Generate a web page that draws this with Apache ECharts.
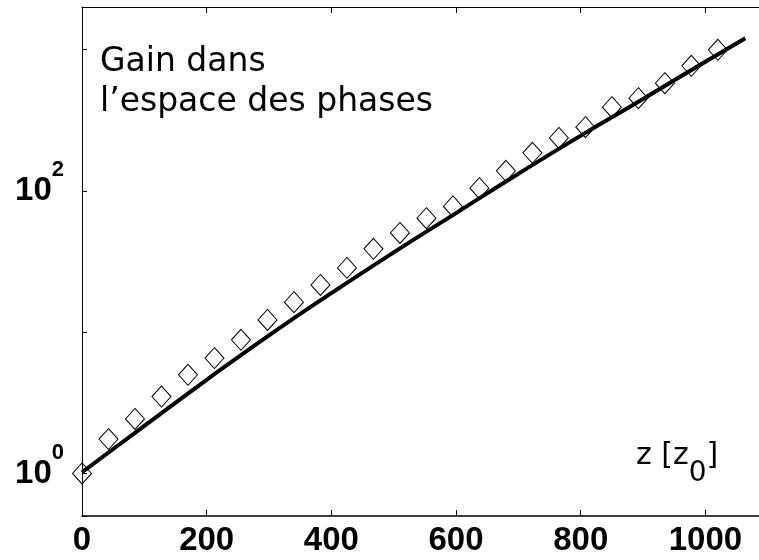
<!DOCTYPE html>
<html>
<head>
<meta charset="utf-8">
<script src="https://cdn.jsdelivr.net/npm/echarts@6/dist/echarts.min.js"></script>
<style>html,body{margin:0;padding:0;background:#fff}</style>
</head>
<body>
<div id="main" style="width:759px;height:560px"></div>
<script>
// courbe continue (théorie)
var lineZ = [0, 100, 200, 300, 400, 500, 600, 700, 800, 900, 1000, 1064]
var lineGain = [1.02, 2.17, 4.6, 9.5, 18.9, 36.7, 69.6, 132, 246, 447, 820, 1200]
// losanges (simulation)
var pointZ = [0, 42.5, 85, 127.5, 170, 212.5, 255, 297.5, 340, 382.5, 425, 467.5, 510,
  552.5, 595, 637.5, 680, 722.5, 765, 807.5, 850, 892.5, 935, 977.5, 1020]
var pointGain = [1.0, 1.75, 2.43, 3.5, 4.99, 6.55, 8.82, 12.2, 16.3, 21.6, 28.5, 38.9, 50.4,
  64.1, 77.6, 104.5, 138.5, 186, 237, 282, 391, 453, 578, 767, 995]
// graduations
var yLabelValues = [1, 100]
var xTickStep = 200

var labelFont = 'Liberation Sans'
var textFont = 'DejaVu Sans'

function pairs(xs, ys) {
  return xs.map(function (x, i) { return [x, ys[i]] })
}

var chart = echarts.init(document.getElementById('main'))
var option = {
  animation: false,
  backgroundColor: '#fff',
  title: {
    text: 'Gain dans\nl\u2019espace des phases',
    left: 100,
    top: 42,
    padding: 0,
    textStyle: {
      fontFamily: textFont,
      fontSize: 33,
      fontWeight: 'normal',
      lineHeight: 40,
      color: '#000',
    },
  },
  grid: { left: 82, right: 0, top: 7, bottom: 44 },
  xAxis: [
    {
      type: 'value',
      min: 0,
      max: 1086,
      interval: xTickStep,
      axisLine: { lineStyle: { color: '#000', width: 1.5 } },
      axisTick: { inside: true, length: 6, lineStyle: { color: '#000' } },
      splitLine: { show: false },
      axisLabel: {
        showMaxLabel: false,
        margin: 8,
        color: '#000',
        fontFamily: labelFont,
        fontSize: 33,
        fontWeight: 'bold',
        formatter: function (v) { return String(v) },
      },
    },
    {
      type: 'value',
      position: 'top',
      min: 0,
      max: 1086,
      interval: xTickStep,
      axisLine: { lineStyle: { color: '#000', width: 1.2 } },
      axisTick: { inside: true, length: 6, lineStyle: { color: '#000' } },
      splitLine: { show: false },
      axisLabel: { show: false },
    },
  ],
  yAxis: {
    type: 'log',
    logBase: 10,
    min: 0.5,
    max: 2000,
    axisLine: { show: true, lineStyle: { color: '#000', width: 1 } },
    axisTick: { inside: true, length: 5, lineStyle: { color: '#000' } },
    splitLine: { show: false },
    axisLabel: {
      margin: 18,
      formatter: function (v) {
        for (var i = 0; i < yLabelValues.length; i++) {
          var L = yLabelValues[i]
          if (Math.abs(v - L) / L < 1e-6) {
            return '{b|10}{s|' + Math.round(Math.log10(L)) + '}'
          }
        }
        return ''
      },
      rich: {
        b: { fontFamily: labelFont, fontSize: 33, fontWeight: 'bold', color: '#000', lineHeight: 64 },
        s: { fontFamily: labelFont, fontSize: 22, fontWeight: 'bold', color: '#000', lineHeight: 33, verticalAlign: 'top' },
      },
    },
  },
  graphic: [
    {
      type: 'text',
      left: 636,
      top: 441,
      style: {
        text: '{a|z [z}{s|0}{a|]}',
        rich: {
          a: { fontFamily: textFont, fontSize: 30, lineHeight: 30, verticalAlign: 'top', fill: '#000' },
          s: { fontFamily: textFont, fontSize: 28, lineHeight: 66, fill: '#000' },
        },
      },
    },
  ],
  series: [
    {
      type: 'scatter',
      data: pairs(pointZ, pointGain),
      symbol: 'diamond',
      symbolSize: [19, 21],
      itemStyle: { color: 'rgba(0,0,0,0)', borderColor: '#000', borderWidth: 1, opacity: 1 },
      z: 2,
    },
    {
      type: 'line',
      data: pairs(lineZ, lineGain),
      smooth: true,
      showSymbol: false,
      lineStyle: { color: '#000', width: 4 },
      z: 3,
    },
  ],
}
chart.setOption(option)
</script>
</body>
</html>
